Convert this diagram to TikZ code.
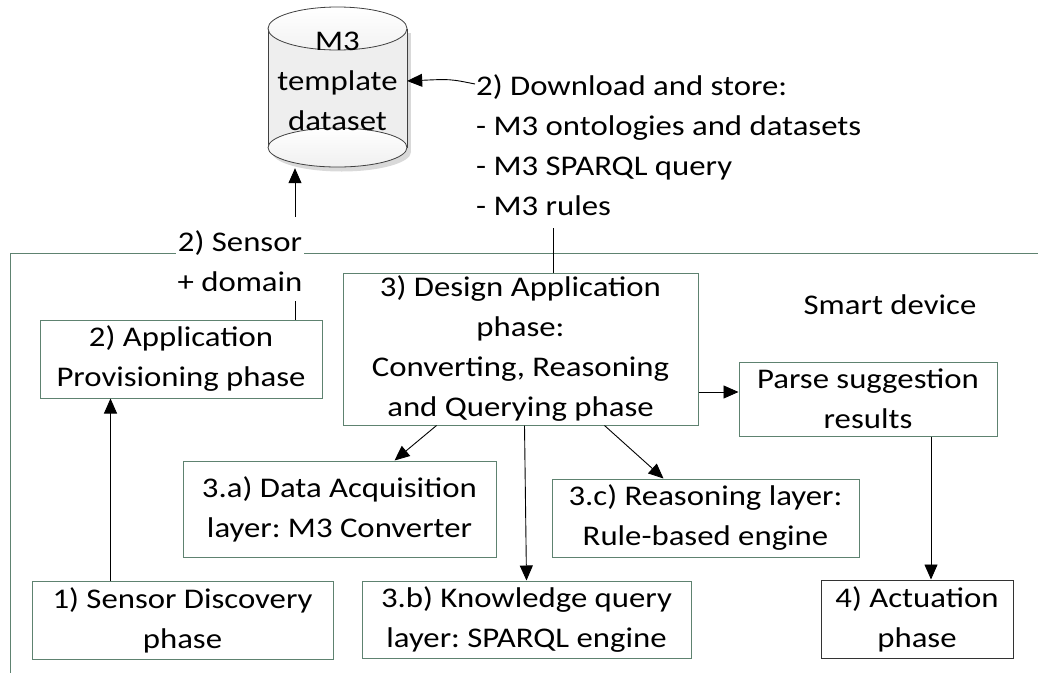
\documentclass[tikz,border=0pt]{standalone}
\usepackage{fontspec}
\setmainfont{Carlito}[FakeStretch=1.15]
\usepackage{xcolor}
\usepackage{tikz}
\usetikzlibrary{arrows.meta,positioning,calc}
\definecolor{framegreen}{HTML}{5E8270}
\definecolor{dbgray}{HTML}{EEEEEE}
\definecolor{dbshadow}{HTML}{D9D9D9}
\newcommand{\diagfont}{\frenchspacing\fontsize{28.5}{40}\selectfont}
\tikzset{
  phase/.style={draw=framegreen, line width=1pt, align=center, inner sep=1pt, font=\diagfont},
  phaseblack/.style={phase, draw=black!80},
  lbl/.style={align=center, inner sep=2pt, font=\diagfont},
  arrow/.style={-{Triangle[length=15pt,width=13pt]}, line width=0.9pt},
  plain/.style={line width=0.9pt},
  frame/.style={draw=framegreen, line width=1pt},
  dbline/.style={draw=black!75, line width=0.8pt}
}

\begin{document}
\begin{tikzpicture}[x=1pt,y=-1pt]
  \useasboundingbox (0,0) rectangle (1038,672);

  % smart device frame
  \draw[frame] (1040,253) -- (10,253) -- (10,674);

  % template dataset cylinder
  \fill[dbshadow] (272,33) rectangle (411,152);
  \fill[dbshadow] (341.5,152) ellipse [x radius=69.5pt, y radius=19.5pt];
  \fill[dbgray] (268,28.5) rectangle (407,147.5);
  \draw[dbline] (268,28.5) -- (268,147.5);
  \draw[dbline] (407,28.5) -- (407,147.5);
  \draw[dbline, top color=white, bottom color=gray!12] (337.5,147.5) ellipse [x radius=69.5pt, y radius=19.5pt];
  \draw[dbline, top color=white, bottom color=gray!10] (337.5,28.5) ellipse [x radius=69.5pt, y radius=21.5pt];
  \node[lbl, minimum width=139pt, minimum height=174pt] (db) at (337.5,81) {M3\\template\\dataset};

  \node[lbl, align=left, anchor=west] (dl) at (474,145) {2) Download and store:\\- M3 ontologies and datasets\\- M3 SPARQL query\\- M3 rules};
  \node[lbl, fill=white] (sensorlbl) at (240,261) {2) Sensor\\+ domain};
  \node[lbl] (smart) at (890,305) {Smart device};

  \node[phase, minimum width=282pt, minimum height=78pt] (app) at (181,359) {2) Application\\Provisioning phase};
  \node[phase, minimum width=355pt, minimum height=152pt] (design) at (520.5,349) {3) Design Application\\phase:\\Converting, Reasoning\\and Querying phase};
  \node[phase, minimum width=258pt, minimum height=74pt] (parse) at (868,399) {Parse suggestion\\results};
  \node[phase, minimum width=313pt, minimum height=96pt] (acq) at (339.5,509) {3.a) Data Acquisition\\layer: M3 Converter};
  \node[phase, minimum width=307pt, minimum height=78pt] (reason) at (705.5,518) {3.c) Reasoning layer:\\Rule-based engine};
  \node[phase, minimum width=329pt, minimum height=77pt] (query) at (526.5,619.5) {3.b) Knowledge query\\layer: SPARQL engine};
  \node[phase, minimum width=301pt, minimum height=78pt] (disc) at (182.5,620) {1) Sensor Discovery\\phase};
  \node[phaseblack, minimum width=192pt, minimum height=78pt] (act) at (917,619) {4) Actuation\\phase};

  \coordinate (sensorup) at (295,217);
  \coordinate (sensordown) at (295,301);
  \coordinate (dlin) at (475,84);
  \coordinate (dlout) at (553,228);

  \draw[arrow] (sensorup) -- (sensorup |- db.south);
  \draw[plain] (sensordown) -- (sensordown |- app.north);
  \draw[arrow] (dlin) .. controls (450,79) .. (db.east);
  \draw[plain] (dlout) -- (dlout |- design.north);
  \draw[arrow] ([xshift=-84pt]design.south) -- ([xshift=55pt]acq.north);
  \draw[arrow] ([xshift=4pt]design.south) -- (query.north);
  \draw[arrow] ([xshift=84pt]design.south) -- ([xshift=-42pt]reason.north);
  \draw[arrow] ([yshift=-43pt]design.east) -- ([yshift=-43pt]design.east -| parse.west);
  \draw[arrow] ([xshift=63pt]parse.south) -- ([xshift=63pt]parse.south |- act.north);
  \draw[arrow] ([xshift=-72pt]disc.north) -- ([xshift=-72pt]disc.north |- app.south);
\end{tikzpicture}
\end{document}
